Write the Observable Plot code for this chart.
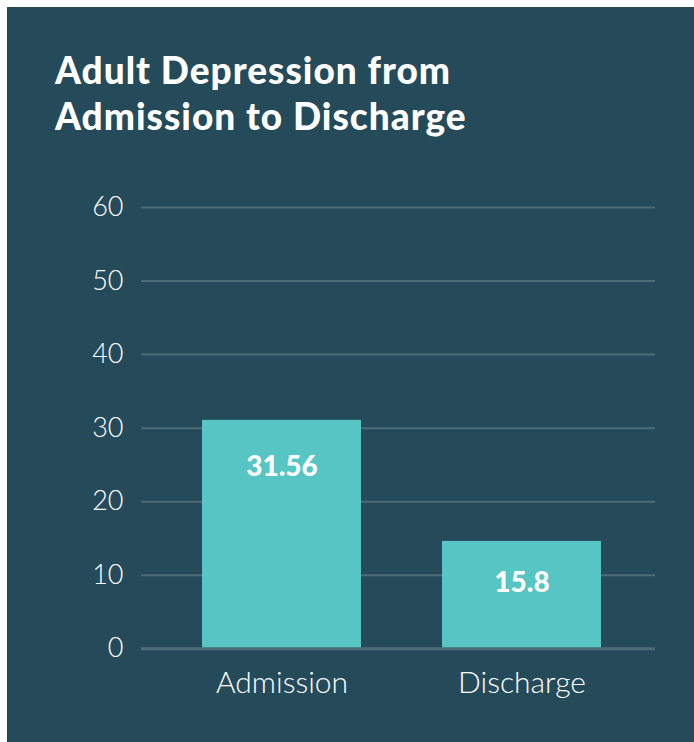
<!DOCTYPE html>
<html>
<head>
<meta charset="utf-8">
<script src="https://cdn.jsdelivr.net/npm/d3@7"></script>
<script src="https://cdn.jsdelivr.net/npm/@observablehq/plot@0.6"></script>
<style>
  html, body { margin: 0; padding: 0; background: #ffffff; }
  #panel {
    position: absolute; left: 7px; top: 7px; width: 687px; height: 735px;
    background: #254b5b; overflow: hidden;
    font-family: Lato, "Noto Sans", sans-serif; color: #ffffff;
  }
  #title {
    position: absolute; left: 48px; top: 40px;
    font-size: 37px; font-weight: 900; line-height: 46px; letter-spacing: 1px;
    margin: 0;
  }
  #chart { position: absolute; left: 0; top: 143px; }
</style>
</head>
<body>
<div id="panel">
  <h1 id="title">Adult Depression from<br>Admission to Discharge</h1>
  <div id="chart"></div>
</div>
<script>
const categories = ["Admission", "Discharge"];
const barValues = [31.06, 14.6];
const labelValues = [31.56, 15.8];
const labelTexts = ["31.56", "15.8"];
const yTicks = [0, 10, 20, 30, 40, 50, 60];

const data = categories.map((c, i) => ({
  category: c, value: barValues[i], labelValue: labelValues[i], label: labelTexts[i]
}));

const chart = Plot.plot({
  width: 687,
  height: 592,
  marginLeft: 134,
  marginRight: 39,
  marginTop: 57,
  marginBottom: 93.7,
  style: { background: "transparent", color: "#ffffff", fontFamily: "Lato, 'Noto Sans', sans-serif", overflow: "visible" },
  x: { domain: categories, paddingInner: 0.336, paddingOuter: 0.2345, align: 0.53, label: null },
  y: { domain: [0, 60], ticks: yTicks, label: null },
  marks: [
    Plot.gridY(yTicks.filter(d => d !== 0), { stroke: "#4e6b78", strokeOpacity: 1, strokeWidth: 2 }),
    Plot.barY(data, { x: "category", y: "value", fill: "#56c5c3" }),
    Plot.ruleY([0], { stroke: "#4e6b78", strokeWidth: 3 }),
    Plot.axisY(yTicks, { tickSize: 0, tickPadding: 18, fontSize: 27, fontWeight: 300, fill: "#ffffff", label: null }),
    Plot.axisX({ tickSize: 0, tickPadding: 23, fontSize: 30, fontWeight: 300, fill: "#ffffff", label: null, style: { letterSpacing: "1px" } }),
    Plot.text(data, { x: "category", y: "labelValue", text: "label", dy: 50, fill: "#ffffff", fontSize: 28, fontWeight: 900, style: { letterSpacing: "0.8px" } })
  ]
});
document.getElementById("chart").appendChild(chart);
</script>
</body>
</html>
